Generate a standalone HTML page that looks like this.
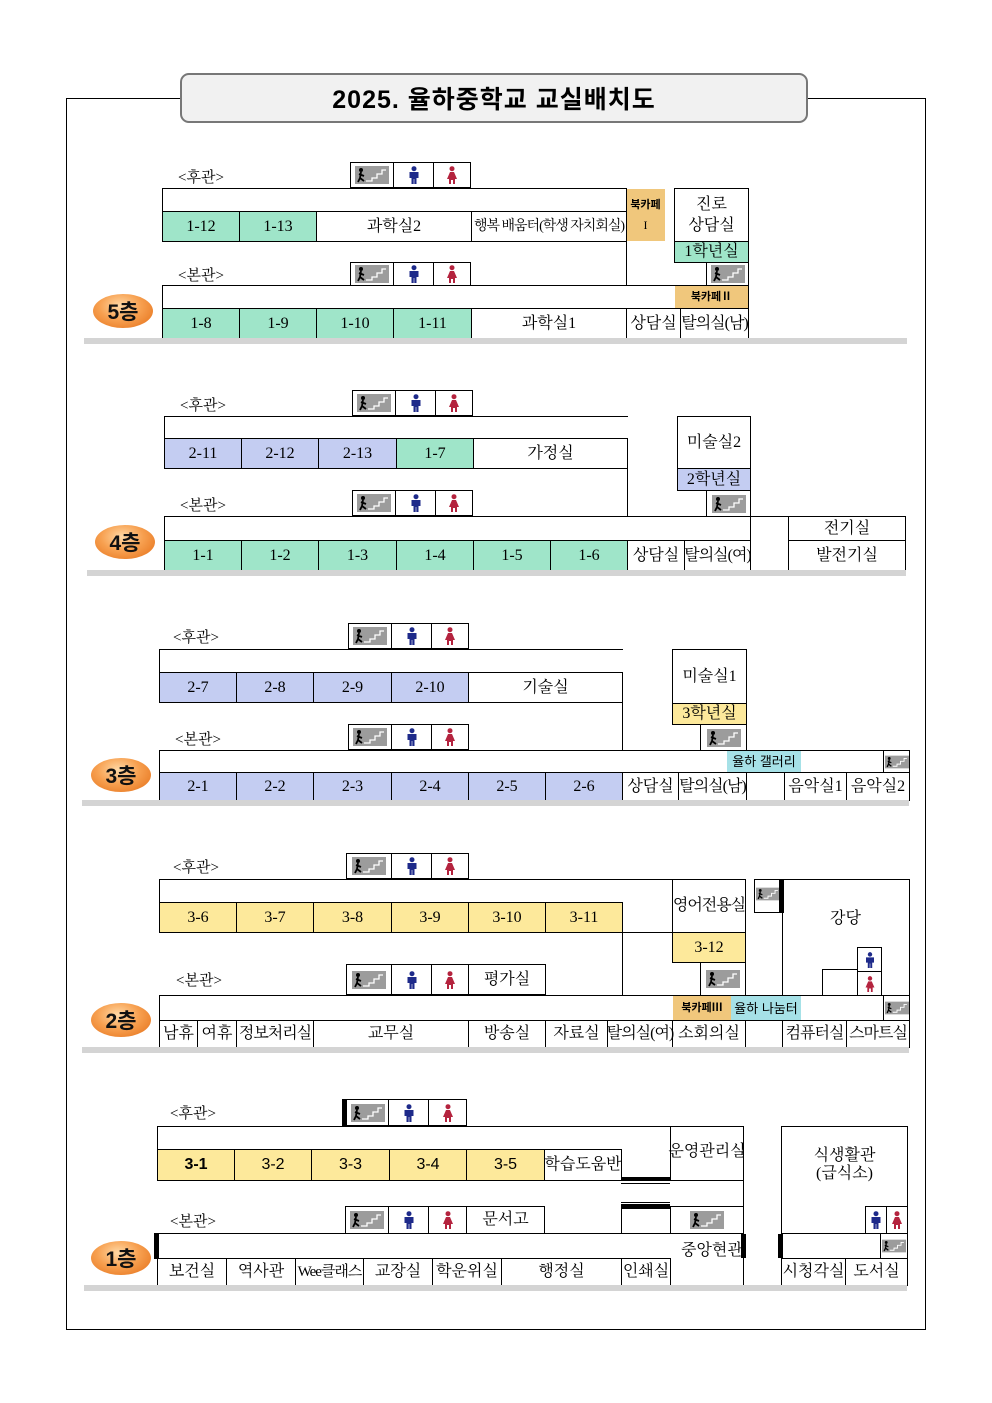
<!DOCTYPE html>
<html><head><meta charset="utf-8">
<style>
*{box-sizing:border-box;margin:0;padding:0}
body{width:992px;height:1403px;background:#fff;position:relative;overflow:hidden;font-family:"Liberation Serif","Noto Serif CJK KR","Noto Serif CJK SC",serif;color:#000}
div{position:absolute}
.b{border:1px solid #000;display:flex;align-items:center;justify-content:center;font-size:16px;white-space:nowrap;line-height:1}
.n{border:none}
.g{background:#9fe5c9}.u{background:#c4cdf2}.y{background:#fde99b}.o{background:#f0c77c}.c{background:#a6e1e7}
.h{height:0;border-top:1px solid #000}
.v{width:0;border-left:1px solid #000}
.lab{font-size:15px}
.bar{background:#d4d4d4;height:6px}
.badge{width:60px;height:34px;border-radius:50%;background:radial-gradient(ellipse at 45% 35%,#ffd9a6 0%,#f7a050 45%,#e36c14 100%);font-family:"Liberation Sans","Noto Sans CJK KR",sans-serif;font-weight:bold;font-size:21px;display:flex;align-items:center;justify-content:center;color:#111}
.ic{display:flex;border:1px solid #000;height:26px}
.ic span{display:flex;align-items:center;justify-content:center;border-left:1px solid #000;height:100%}
.ic span:first-child{border-left:none}
.tb{background:#000}
.s{font-size:11px;font-family:"Liberation Sans","Noto Sans CJK KR",sans-serif;font-weight:bold}
</style></head><body>

<svg width="0" height="0" style="position:absolute">
<defs>
<symbol id="st" viewBox="0 0 34 18"><rect width="34" height="18" fill="#9c9c9c"/><circle cx="6" cy="4" r="2" fill="#000"/><path d="M6 6 L5 12 M4 8 L9 10 M5 12 L3 16 M5 12 L9 15" stroke="#000" stroke-width="1.8" fill="none"/><path d="M11 15 H17 V12 H22 V8 H27 V4 H31" stroke="#fff" stroke-width="1.3" fill="none"/></symbol>
<symbol id="m" viewBox="0 0 12 18"><circle cx="6" cy="2.7" r="2.5" fill="#1e2a8a"/><path d="M1.5 6h9v6h-2v6h-2.2v-5h-0.6v5h-2.2v-6h-2z" fill="#1e2a8a"/></symbol>
<symbol id="f" viewBox="0 0 12 18"><circle cx="6" cy="2.7" r="2.5" fill="#b4233e"/><path d="M4 6h4l3 7h-2v5h-2v-4h-2v4h-2v-5h-2z" fill="#b4233e"/></symbol>
</defs></svg>

<!-- frame & title -->
<div style="left:66px;top:98px;width:860px;height:1232px;border:1px solid #000"></div>
<div style="left:180px;top:73px;width:628px;height:50px;border:2px solid #777;border-radius:9px;background:#f1f1f1;display:flex;align-items:center;justify-content:center;font-family:'Liberation Sans','Noto Sans CJK KR',sans-serif;font-weight:bold;font-size:25px;letter-spacing:1px">2025. 율하중학교 교실배치도</div>

<!-- ===== 5F ===== -->
<div class="lab" style="left:178px;top:166px">&lt;후관&gt;</div>
<div class="ic" style="left:350px;top:162px;width:121px"><span style="width:42px"><svg width="34" height="18"><use href="#st"/></svg></span><span style="width:40px"><svg width="12" height="18"><use href="#m"/></svg></span><span style="width:37px"><svg width="12" height="18"><use href="#f"/></svg></span></div>
<div class="h" style="left:162px;top:188px;width:465px"></div>
<div class="v" style="left:162px;top:188px;height:54px"></div>
<div class="b g" style="left:162px;top:211px;width:78px;height:31px">1-12</div>
<div class="b g" style="left:239px;top:211px;width:78px;height:31px">1-13</div>
<div class="b" style="left:316px;top:211px;width:156px;height:31px">과학실2</div>
<div class="b" style="left:471px;top:211px;width:156px;height:31px;font-size:14px;letter-spacing:-1px">행복 배움터(학생 자치회실)</div>
<div class="b o n" style="left:626px;top:189px;width:39px;height:52px;flex-direction:column;gap:8px"><span class="s">북카페</span><span style="font-size:12px">I</span></div>
<div class="v" style="left:626px;top:188px;height:98px"></div>
<div class="b" style="left:674px;top:188px;width:75px;height:54px;flex-direction:column;gap:5px;font-size:16px"><span>진로</span><span>상담실</span></div>
<div class="b g" style="left:674px;top:241px;width:75px;height:22px;font-size:16px">1학년실</div>
<div class="b" style="left:706px;top:262px;width:43px;height:24px"><svg width="34" height="18"><use href="#st"/></svg></div>
<div class="lab" style="left:178px;top:264px">&lt;본관&gt;</div>
<div class="ic" style="left:350px;top:262px;width:121px;height:24px"><span style="width:42px"><svg width="34" height="18"><use href="#st"/></svg></span><span style="width:40px"><svg width="12" height="18"><use href="#m"/></svg></span><span style="width:37px"><svg width="12" height="18"><use href="#f"/></svg></span></div>
<div style="left:162px;top:285px;width:587px;height:54px;border:1px solid #000"></div>
<div class="b o n" style="left:675px;top:286px;width:73px;height:22px"><span class="s">북카페Ⅱ</span></div>
<div class="b g" style="left:162px;top:308px;width:78px;height:31px">1-8</div>
<div class="b g" style="left:239px;top:308px;width:78px;height:31px">1-9</div>
<div class="b g" style="left:316px;top:308px;width:78px;height:31px">1-10</div>
<div class="b g" style="left:393px;top:308px;width:79px;height:31px">1-11</div>
<div class="b" style="left:471px;top:308px;width:156px;height:31px">과학실1</div>
<div class="b" style="left:626px;top:308px;width:55px;height:31px">상담실</div>
<div class="b" style="left:680px;top:308px;width:69px;height:31px;letter-spacing:-1px">탈의실(남)</div>
<div class="bar" style="left:84px;top:338px;width:823px"></div>
<div class="badge" style="left:93px;top:294px">5층</div>

<!-- ===== 4F ===== -->
<div class="lab" style="left:180px;top:394px">&lt;후관&gt;</div>
<div class="ic" style="left:352px;top:390px;width:121px"><span style="width:42px"><svg width="34" height="18"><use href="#st"/></svg></span><span style="width:40px"><svg width="12" height="18"><use href="#m"/></svg></span><span style="width:37px"><svg width="12" height="18"><use href="#f"/></svg></span></div>
<div style="left:164px;top:416px;width:464px;height:53px;border:1px solid #000;border-right:none"></div>
<div class="b u" style="left:164px;top:438px;width:78px;height:31px">2-11</div>
<div class="b u" style="left:241px;top:438px;width:78px;height:31px">2-12</div>
<div class="b u" style="left:318px;top:438px;width:79px;height:31px">2-13</div>
<div class="b g" style="left:396px;top:438px;width:78px;height:31px">1-7</div>
<div class="b" style="left:473px;top:438px;width:155px;height:31px">가정실</div>
<div class="v" style="left:627px;top:438px;height:79px"></div>
<div class="b" style="left:677px;top:416px;width:74px;height:53px;font-size:16px">미술실2</div>
<div class="b u" style="left:677px;top:468px;width:74px;height:23px;font-size:16px">2학년실</div>
<div class="b" style="left:706px;top:490px;width:45px;height:27px"><svg width="34" height="18"><use href="#st"/></svg></div>
<div class="lab" style="left:180px;top:494px">&lt;본관&gt;</div>
<div class="ic" style="left:352px;top:490px;width:121px"><span style="width:42px"><svg width="34" height="18"><use href="#st"/></svg></span><span style="width:40px"><svg width="12" height="18"><use href="#m"/></svg></span><span style="width:37px"><svg width="12" height="18"><use href="#f"/></svg></span></div>
<div style="left:164px;top:516px;width:587px;height:55px;border:1px solid #000"></div>
<div class="b" style="left:750px;top:516px;width:39px;height:55px;border-left:none"></div>
<div class="b" style="left:788px;top:516px;width:118px;height:25px">전기실</div>
<div class="b g" style="left:164px;top:540px;width:78px;height:31px">1-1</div>
<div class="b g" style="left:241px;top:540px;width:78px;height:31px">1-2</div>
<div class="b g" style="left:318px;top:540px;width:79px;height:31px">1-3</div>
<div class="b g" style="left:396px;top:540px;width:78px;height:31px">1-4</div>
<div class="b g" style="left:473px;top:540px;width:78px;height:31px">1-5</div>
<div class="b g" style="left:550px;top:540px;width:78px;height:31px">1-6</div>
<div class="b" style="left:627px;top:540px;width:58px;height:31px">상담실</div>
<div class="b" style="left:684px;top:540px;width:67px;height:31px;letter-spacing:-1px">탈의실(여)</div>
<div class="b" style="left:788px;top:540px;width:118px;height:31px">발전기실</div>
<div class="bar" style="left:87px;top:570px;width:819px"></div>
<div class="badge" style="left:95px;top:525px">4층</div>

<!-- ===== 3F ===== -->
<div class="lab" style="left:173px;top:626px">&lt;후관&gt;</div>
<div class="ic" style="left:348px;top:623px;width:121px"><span style="width:42px"><svg width="34" height="18"><use href="#st"/></svg></span><span style="width:40px"><svg width="12" height="18"><use href="#m"/></svg></span><span style="width:37px"><svg width="12" height="18"><use href="#f"/></svg></span></div>
<div style="left:159px;top:649px;width:464px;height:54px;border:1px solid #000;border-right:none"></div>
<div class="b u" style="left:159px;top:672px;width:78px;height:31px">2-7</div>
<div class="b u" style="left:236px;top:672px;width:78px;height:31px">2-8</div>
<div class="b u" style="left:313px;top:672px;width:79px;height:31px">2-9</div>
<div class="b u" style="left:391px;top:672px;width:78px;height:31px">2-10</div>
<div class="b" style="left:468px;top:672px;width:155px;height:31px">기술실</div>
<div class="v" style="left:622px;top:672px;height:79px"></div>
<div class="b" style="left:672px;top:649px;width:75px;height:55px;font-size:16px">미술실1</div>
<div class="b y" style="left:672px;top:703px;width:75px;height:22px;font-size:16px">3학년실</div>
<div class="b" style="left:700px;top:724px;width:47px;height:27px"><svg width="34" height="18"><use href="#st"/></svg></div>
<div class="lab" style="left:175px;top:728px">&lt;본관&gt;</div>
<div class="ic" style="left:348px;top:724px;width:121px"><span style="width:42px"><svg width="34" height="18"><use href="#st"/></svg></span><span style="width:40px"><svg width="12" height="18"><use href="#m"/></svg></span><span style="width:37px"><svg width="12" height="18"><use href="#f"/></svg></span></div>
<div style="left:159px;top:750px;width:751px;height:51px;border:1px solid #000"></div>
<div class="b c n" style="left:727px;top:751px;width:74px;height:21px;font-size:13px;font-family:'Liberation Sans','Noto Sans CJK KR',sans-serif">율하 갤러리</div>
<div class="b" style="left:883px;top:750px;width:27px;height:23px"><svg width="24" height="16"><use href="#st"/></svg></div>
<div class="b u" style="left:159px;top:772px;width:78px;height:29px">2-1</div>
<div class="b u" style="left:236px;top:772px;width:78px;height:29px">2-2</div>
<div class="b u" style="left:313px;top:772px;width:79px;height:29px">2-3</div>
<div class="b u" style="left:391px;top:772px;width:78px;height:29px">2-4</div>
<div class="b u" style="left:468px;top:772px;width:78px;height:29px">2-5</div>
<div class="b u" style="left:545px;top:772px;width:78px;height:29px">2-6</div>
<div class="b" style="left:622px;top:772px;width:57px;height:29px">상담실</div>
<div class="b" style="left:678px;top:772px;width:69px;height:29px;letter-spacing:-1px">탈의실(남)</div>
<div class="b" style="left:746px;top:772px;width:39px;height:29px"></div>
<div class="b" style="left:784px;top:772px;width:63px;height:29px">음악실1</div>
<div class="b" style="left:846px;top:772px;width:64px;height:29px">음악실2</div>
<div class="bar" style="left:82px;top:800px;width:827px"></div>
<div class="badge" style="left:91px;top:758px">3층</div>

<!-- ===== 2F ===== -->
<div class="lab" style="left:173px;top:856px">&lt;후관&gt;</div>
<div class="ic" style="left:346px;top:853px;width:123px"><span style="width:44px"><svg width="34" height="18"><use href="#st"/></svg></span><span style="width:40px"><svg width="12" height="18"><use href="#m"/></svg></span><span style="width:37px"><svg width="12" height="18"><use href="#f"/></svg></span></div>
<div style="left:159px;top:879px;width:514px;height:54px;border:1px solid #000;border-right:none"></div>
<div class="b y" style="left:159px;top:902px;width:78px;height:31px">3-6</div>
<div class="b y" style="left:236px;top:902px;width:78px;height:31px">3-7</div>
<div class="b y" style="left:313px;top:902px;width:79px;height:31px">3-8</div>
<div class="b y" style="left:391px;top:902px;width:78px;height:31px">3-9</div>
<div class="b y" style="left:468px;top:902px;width:78px;height:31px">3-10</div>
<div class="b y" style="left:545px;top:902px;width:78px;height:31px">3-11</div>
<div class="v" style="left:622px;top:902px;height:94px"></div>
<div class="b" style="left:672px;top:879px;width:74px;height:54px;letter-spacing:-1px">영어전용실</div>
<div class="b y" style="left:672px;top:932px;width:74px;height:31px">3-12</div>
<div class="b" style="left:700px;top:962px;width:46px;height:34px"><svg width="34" height="18"><use href="#st"/></svg></div>
<div class="b" style="left:754px;top:879px;width:28px;height:34px;align-items:flex-start;padding-top:6px"><svg width="24" height="16"><use href="#st"/></svg></div>
<div class="tb" style="left:779px;top:879px;width:5px;height:34px"></div>
<div class="v" style="left:782px;top:879px;height:117px"></div>
<div style="left:782px;top:879px;width:128px;height:117px;border:1px solid #000;border-left:none;border-bottom:none"></div>
<div class="lab" style="left:830px;top:905px;font-size:16px">강당</div>
<div class="b" style="left:857px;top:947px;width:25px;height:25px"><svg width="12" height="16"><use href="#m"/></svg></div>
<div class="b" style="left:857px;top:971px;width:25px;height:25px"><svg width="12" height="16"><use href="#f"/></svg></div>
<div class="h" style="left:822px;top:969px;width:35px"></div>
<div class="v" style="left:822px;top:969px;height:27px"></div>
<div class="lab" style="left:176px;top:969px">&lt;본관&gt;</div>
<div class="ic" style="left:346px;top:964px;width:123px;height:31px"><span style="width:44px"><svg width="34" height="18"><use href="#st"/></svg></span><span style="width:40px"><svg width="12" height="18"><use href="#m"/></svg></span><span style="width:37px"><svg width="12" height="18"><use href="#f"/></svg></span></div>
<div class="b" style="left:468px;top:964px;width:78px;height:31px">평가실</div>
<div style="left:159px;top:995px;width:751px;height:53px;border:1px solid #000"></div>
<div class="b o n" style="left:673px;top:996px;width:58px;height:24px"><span class="s">북카페Ⅲ</span></div>
<div class="b c n" style="left:731px;top:996px;width:70px;height:24px;font-size:13px;font-family:'Liberation Sans','Noto Sans CJK KR',sans-serif">율하 나눔터</div>
<div class="b" style="left:883px;top:995px;width:27px;height:26px"><svg width="24" height="16"><use href="#st"/></svg></div>
<div class="b" style="left:159px;top:1020px;width:39px;height:28px">남휴</div>
<div class="b" style="left:197px;top:1020px;width:40px;height:28px">여휴</div>
<div class="b" style="left:236px;top:1020px;width:78px;height:28px;letter-spacing:-1px">정보처리실</div>
<div class="b" style="left:313px;top:1020px;width:156px;height:28px">교무실</div>
<div class="b" style="left:468px;top:1020px;width:78px;height:28px">방송실</div>
<div class="b" style="left:545px;top:1020px;width:63px;height:28px">자료실</div>
<div class="b" style="left:607px;top:1020px;width:66px;height:28px;letter-spacing:-1px">탈의실(여)</div>
<div class="b" style="left:672px;top:1020px;width:74px;height:28px">소회의실</div>
<div class="b" style="left:745px;top:1020px;width:38px;height:28px"></div>
<div class="b" style="left:782px;top:1020px;width:65px;height:28px;letter-spacing:-1px">컴퓨터실</div>
<div class="b" style="left:846px;top:1020px;width:64px;height:28px;letter-spacing:-1px">스마트실</div>
<div class="bar" style="left:82px;top:1047px;width:827px"></div>
<div class="badge" style="left:91px;top:1003px">2층</div>

<!-- ===== 1F ===== -->
<div class="lab" style="left:170px;top:1102px">&lt;후관&gt;</div>
<div class="tb" style="left:342px;top:1099px;width:5px;height:27px"></div>
<div class="ic" style="left:346px;top:1099px;width:121px;height:27px"><span style="width:41px"><svg width="34" height="18"><use href="#st"/></svg></span><span style="width:40px"><svg width="12" height="18"><use href="#m"/></svg></span><span style="width:38px"><svg width="12" height="18"><use href="#f"/></svg></span></div>
<div style="left:157px;top:1126px;width:587px;height:55px;border:1px solid #000;border-right:none;border-bottom:none"></div>
<div class="b y" style="left:157px;top:1149px;width:78px;height:32px;font-family:'Liberation Sans',sans-serif;font-weight:bold;font-size:16px">3-1</div>
<div class="b y" style="left:234px;top:1149px;width:78px;height:32px;font-family:'Liberation Sans',sans-serif">3-2</div>
<div class="b y" style="left:311px;top:1149px;width:79px;height:32px;font-family:'Liberation Sans',sans-serif">3-3</div>
<div class="b y" style="left:389px;top:1149px;width:78px;height:32px;font-family:'Liberation Sans',sans-serif">3-4</div>
<div class="b y" style="left:466px;top:1149px;width:79px;height:32px;font-family:'Liberation Sans',sans-serif">3-5</div>
<div class="b" style="left:544px;top:1149px;width:78px;height:32px">학습도움반</div>
<div class="b" style="left:670px;top:1126px;width:74px;height:55px;align-items:flex-start;padding-top:17px">운영관리실</div>
<div class="tb" style="left:621px;top:1177px;width:49px;height:4px"></div>
<div class="h" style="left:621px;top:1183px;width:49px"></div>
<div class="h" style="left:621px;top:1202px;width:49px"></div>
<div class="tb" style="left:621px;top:1204px;width:49px;height:5px"></div>
<div class="v" style="left:621px;top:1206px;height:28px"></div>
<div class="v" style="left:743px;top:1126px;height:160px"></div>
<div class="b" style="left:670px;top:1206px;width:74px;height:28px"><svg width="34" height="18"><use href="#st"/></svg></div>
<div class="lab" style="left:170px;top:1210px">&lt;본관&gt;</div>
<div class="ic" style="left:345px;top:1206px;width:122px;height:28px"><span style="width:42px"><svg width="34" height="18"><use href="#st"/></svg></span><span style="width:40px"><svg width="12" height="18"><use href="#m"/></svg></span><span style="width:38px"><svg width="12" height="18"><use href="#f"/></svg></span></div>
<div class="b" style="left:466px;top:1206px;width:79px;height:28px">문서고</div>
<div style="left:157px;top:1233px;width:587px;height:53px;border:1px solid #000;border-right:none"></div>
<div class="tb" style="left:154px;top:1233px;width:5px;height:26px"></div>
<div class="tb" style="left:741px;top:1234px;width:5px;height:24px"></div>
<div class="lab" style="left:681px;top:1237px;font-size:16px">중앙현관</div>
<div class="b" style="left:157px;top:1258px;width:70px;height:28px">보건실</div>
<div class="b" style="left:226px;top:1258px;width:70px;height:28px">역사관</div>
<div class="b" style="left:295px;top:1258px;width:69px;height:28px;letter-spacing:-1px;font-size:15px">Wee클래스</div>
<div class="b" style="left:363px;top:1258px;width:70px;height:28px">교장실</div>
<div class="b" style="left:432px;top:1258px;width:70px;height:28px">학운위실</div>
<div class="b" style="left:501px;top:1258px;width:121px;height:28px">행정실</div>
<div class="b" style="left:621px;top:1258px;width:50px;height:28px">인쇄실</div>
<div style="left:781px;top:1126px;width:127px;height:160px;border:1px solid #000"></div>
<div class="lab" style="left:781px;top:1147px;width:127px;text-align:center;line-height:18px;font-size:16px">식생활관<br>(급식소)</div>
<div class="b" style="left:865px;top:1206px;width:22px;height:28px"><svg width="12" height="18"><use href="#m"/></svg></div>
<div class="b" style="left:886px;top:1206px;width:22px;height:28px"><svg width="12" height="18"><use href="#f"/></svg></div>
<div class="h" style="left:781px;top:1233px;width:127px"></div>
<div class="tb" style="left:778px;top:1234px;width:5px;height:24px"></div>
<div class="b" style="left:880px;top:1233px;width:28px;height:26px"><svg width="24" height="16"><use href="#st"/></svg></div>
<div class="b" style="left:781px;top:1258px;width:65px;height:28px">시청각실</div>
<div class="b" style="left:845px;top:1258px;width:63px;height:28px">도서실</div>
<div class="bar" style="left:84px;top:1285px;width:823px"></div>
<div class="badge" style="left:91px;top:1241px">1층</div>

</body></html>
